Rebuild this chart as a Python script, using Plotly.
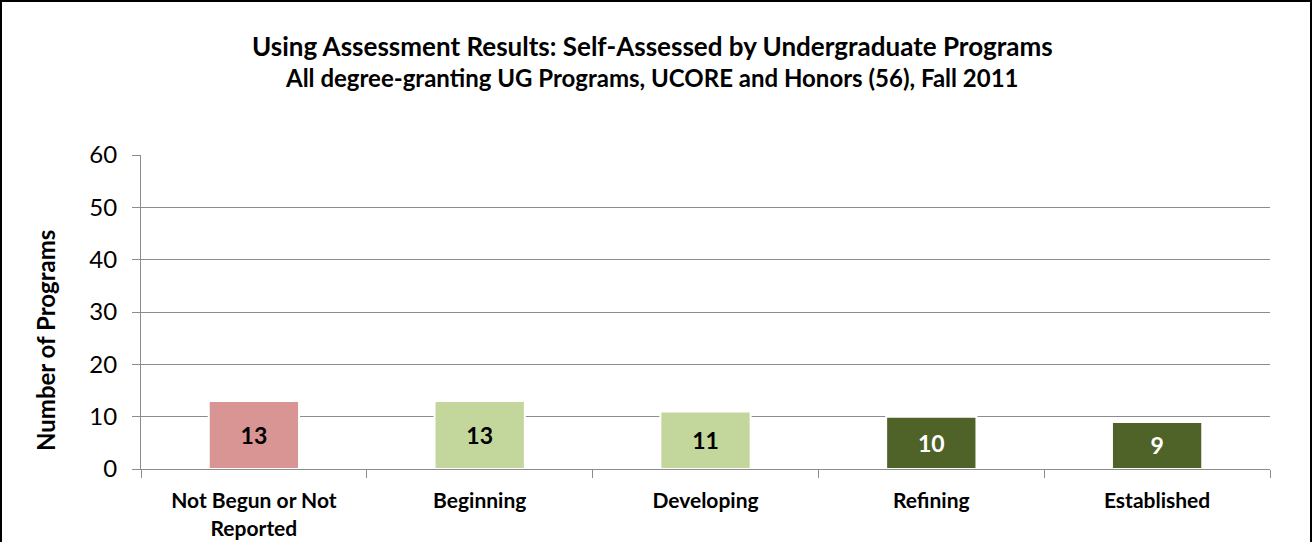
import plotly.graph_objects as go

categories = ["Not Begun or Not<br>Reported", "Beginning", "Developing", "Refining", "Established"]
values = [13, 13, 11, 10, 9]
bar_colors = ["#D99594", "#C3D69B", "#C3D69B", "#4F6228", "#4F6228"]
label_colors = ["#000000", "#000000", "#000000", "#FFFFFF", "#FFFFFF"]
y_ticks = [0, 10, 20, 30, 40, 50, 60]
title_1 = "Using Assessment Results: Self-Assessed by Undergraduate Programs"
title_2 = "All degree-granting UG Programs, UCORE and Honors (56), Fall 2011"
y_title = "Number of Programs"

FONT = "Lato, Open Sans, sans-serif"
W, H = 1312, 542
L, R, T, B = 141, 42, 155, 73
PW, PH = W - L - R, H - T - B

def px(x):
    return (x - L) / PW

def py(y):
    return (H - B - y) / PH

fig = go.Figure(go.Bar(
    x=categories, y=values,
    marker=dict(color=bar_colors, line=dict(color="#FFFFFF", width=2)),
    text=["<b>%d</b>" % v for v in values],
    textposition="inside", insidetextanchor="middle",
    textfont=dict(family=FONT, size=23, color=label_colors),
    width=0.4,
))

fig.update_layout(
    width=W, height=H,
    margin=dict(l=L, r=R, t=T, b=B),
    paper_bgcolor="white", plot_bgcolor="white",
    showlegend=False,
    font=dict(family=FONT, color="#000000"),
    annotations=[
        dict(text="<b>" + title_1 + "</b>", xref="paper", yref="paper", x=px(652), y=py(46),
             xanchor="center", yanchor="middle", showarrow=False,
             font=dict(family=FONT, size=26, color="#000000")),
        dict(text="<b>" + title_2 + "</b>", xref="paper", yref="paper", x=px(652), y=py(77),
             xanchor="center", yanchor="middle", showarrow=False,
             font=dict(family=FONT, size=24, color="#000000")),
        dict(text="<b>" + y_title + "</b>", xref="paper", yref="paper", x=px(45), y=py(341),
             xanchor="center", yanchor="middle", showarrow=False, textangle=-90,
             font=dict(family=FONT, size=24, color="#000000")),
    ],
    shapes=[dict(type="rect", xref="paper", yref="paper",
                 x0=px(1), x1=px(1311), y0=py(548), y1=py(1),
                 line=dict(color="#000000", width=2), fillcolor="rgba(0,0,0,0)", layer="below")],
)

fig.update_yaxes(
    range=[0, 60], tickvals=y_ticks, showgrid=True, gridcolor="#8C8C8C", gridwidth=1,
    showline=True, linecolor="#8C8C8C", ticks="outside", ticklen=8, tickcolor="#8C8C8C",
    tickfont=dict(family=FONT, size=24, color="#000000"),
    zeroline=False, automargin=False, ticklabelstandoff=10,
)
fig.update_xaxes(
    showline=True, linecolor="#8C8C8C", ticks="outside", ticklen=8, tickcolor="#8C8C8C",
    tickson="boundaries", automargin=False, ticklabelstandoff=13,
    tickfont=dict(family=FONT, size=21, color="#000000"),
    tickvals=categories, ticktext=["<b>" + c + "</b>" for c in categories],
)

fig.write_html("out.html", config={"displayModeBar": False},
               post_script="document.body.style.margin='0';")
